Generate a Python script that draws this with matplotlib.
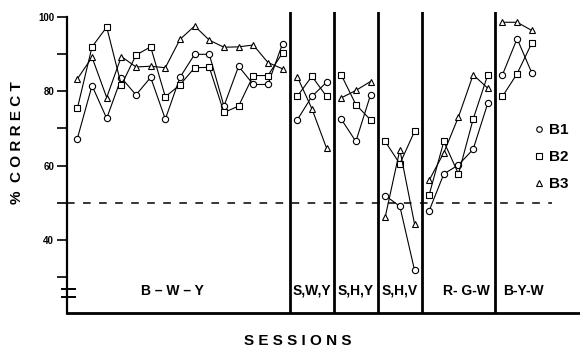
import numpy as np
import matplotlib.pyplot as plt
from matplotlib.lines import Line2D
import matplotlib.transforms as mtransforms

plt.rcParams['font.family'] = ['Liberation Sans', 'DejaVu Sans']
plt.rcParams['font.weight'] = 'bold'

# phases and number of sessions in each
phases = ["B – W – Y", "S,W,Y", "S,H,Y", "S,H,V", "R- G-W", "B-Y-W"]
phase_len = [15, 3, 3, 3, 5, 3]

# % correct per session
b1 = [67.3, 81.5, 72.7, 83.6, 79.0, 83.7, 72.5, 83.7, 89.9, 89.9, 76.0, 86.7, 81.8, 81.8, 92.8,
      72.3, 78.6, 82.4,
      72.5, 66.5, 79.0,
      52.0, 49.1, 32.0,
      47.9, 57.8, 60.2, 64.4, 76.8,
      84.4, 94.1, 84.9]
b2 = [75.4, 91.9, 97.2, 81.6, 89.7, 91.9, 78.5, 81.7, 86.3, 86.4, 74.3, 76.0, 84.2, 84.2, 90.3,
      78.6, 84.0, 78.6,
      84.4, 76.4, 72.3,
      66.5, 60.5, 69.2,
      52.2, 66.5, 57.8, 72.5, 84.4,
      78.6, 84.7, 92.9]
b3 = [83.3, 89.1, 78.3, 89.3, 86.5, 86.7, 86.3, 93.9, 97.5, 93.7, 91.8, 91.9, 92.4, 87.7, 86.0,
      83.9, 75.3, 64.7,
      78.2, 80.2, 82.6,
      46.2, 64.3, 44.4,
      56.1, 63.5, 73.1, 84.4, 80.8,
      98.5, 98.5, 96.3]

chance = 50
yticks_major = [100, 80, 60, 40]

sessions = np.arange(1, len(b1) + 1)
bounds = np.cumsum([0] + phase_len)

fig = plt.figure(figsize=(5.8, 3.51), dpi=100)
ax = fig.add_axes([0.1147, 0.1074, 0.8853, 0.8593])

series = [(b1, 'o', 'B1'), (b2, 's', 'B2'), (b3, '^', 'B3')]
for vals, mk, lab in series:
    vals = np.array(vals)
    for k in range(len(phase_len)):
        s, e = bounds[k], bounds[k + 1]
        ax.plot(sessions[s:e], vals[s:e], color='black', lw=0.8, marker=mk,
                ms=4.5 if mk != '^' else 4.8, mfc='white', mec='black', mew=0.8, zorder=3)

# phase separators
for b in bounds[1:-1]:
    ax.axvline(b + 0.5, color='black', lw=2.0, zorder=2)

# chance line
ax.plot([0.26, 33.4], [chance, chance], color='black', lw=1.1, ls=(0, (5, 5.5)), zorder=1)

# phase labels
label_x = [7.5, 17, 20, 23, 27.55, 31.45]
for name, lx in zip(phases, label_x):
    ax.text(lx, 26.4, name, ha='center', va='center', fontsize=10, fontweight='bold')

ax.set_xlim(0.26, 35.29)
ax.set_ylim(20.38, 101.34)
ax.set_yticks(np.arange(30, 101, 10))
ax.set_yticklabels([str(v) if v in yticks_major else '' for v in np.arange(30, 101, 10)])
ax.tick_params(axis='y', length=7, width=1.2, pad=2, labelsize=7)
ax.set_xticks([])
for sp in ['top', 'right']:
    ax.spines[sp].set_visible(False)
ax.spines['left'].set_linewidth(1.6)
ax.spines['left'].set_bounds(20.38, 100)
ax.spines['bottom'].set_linewidth(2.0)
for t in ax.get_yticklabels():
    t.set_fontweight('bold')

# axis break marks
trans = mtransforms.blended_transform_factory(ax.transAxes, ax.transData)
for yb in [26.8, 24.8]:
    ax.plot([-0.0095, 0.0165], [yb, yb], color='black', lw=1.4, transform=trans, clip_on=False)

# legend
handles = [Line2D([], [], ls='none', marker=mk, ms=4 if mk != '^' else 4.3, mfc='white',
                  mec='black', mew=0.8) for _, mk, _ in series]
ax.legend(handles, [lab for _, _, lab in series], loc='center left',
          bbox_to_anchor=(0.912, 0.518), frameon=False, handlelength=0.6,
          handletextpad=0.35, labelspacing=0.85, borderpad=0, borderaxespad=0,
          prop={'weight': 'bold', 'size': 11})

fig.text(17.5 / 580, 1 - 143 / 351, "%  C O R R E C T", rotation=90, ha='center', va='center',
         fontsize=11, fontweight='bold')
fig.text(297.5 / 580, 1 - 341 / 351, "S E S S I O N S", ha='center', va='center',
         fontsize=11, fontweight='bold')

plt.savefig('out.png', dpi=100)
